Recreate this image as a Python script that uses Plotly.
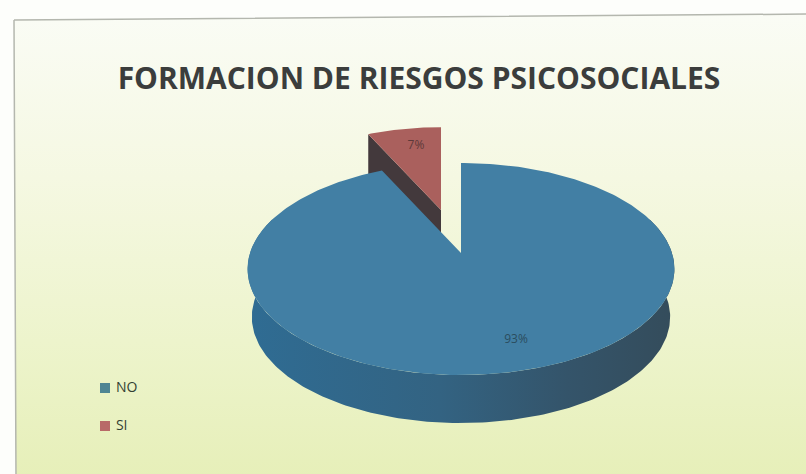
import math
import plotly.graph_objects as go

# Survey result
categories = ["NO", "SI"]
values = [93, 7]
title_text = "FORMACION DE RIESGOS PSICOSOCIALES"

# Drawing canvas uses screen-like units so the tilted pie can be laid out directly
W, H = 806, 474
TOP_COLORS = {"NO": "#427fa4", "SI": "#aa605d"}
TILT = 0.151      # foreshortening of the far side of the disc
RX, RY = 211, 103.6
DEPTH = 48


def rim(theta_deg, ax, ay, scale=1.0, shift=0.0, xscale=1.0):
    """Project a point of the tilted disc rim, clockwise from twelve o'clock."""
    t = math.radians(theta_deg)
    u, v = math.sin(t), math.cos(t)
    d = 1 + TILT * v
    return (ax + RX * scale * xscale * u / d, ay - RY * scale * v / d + shift)


def arc(start, end, ax, ay, **kw):
    n = max(2, int(abs(end - start)) + 1)
    pts = [rim(start + (end - start) * i / (n - 1), ax, ay, **kw) for i in range(n)]
    return [p[0] for p in pts], [p[1] for p in pts]


def poly(xs, ys, **kw):
    return go.Scatter(x=xs, y=ys, mode="lines", fill="toself", hoverinfo="skip",
                      showlegend=False, **kw)


sweep_no = values[0] / sum(values) * 360
sweep_si = values[1] / sum(values) * 360
AX_NO, AY_NO = 461, 253
AX_SI, AY_SI = 441, 210
SCALE_SI = 0.92

fig = go.Figure()

# Chart area with soft vertical gradient and a thin grey frame (open towards the page edges)
fig.add_trace(poly(
    [14, 812, 812, 16, 14], [20, 14, 482, 482, 20],
    line=dict(color="#b4b7ae", width=1.5),
    fillgradient=dict(type="vertical",
                      colorscale=[[0, "#e6efb8"], [0.3, "#edf4cc"], [0.65, "#f5f8e2"], [1, "#fafcf5"]]),
))

# Exploded SI slice: inner wall, then top face
lx, ly = rim(-sweep_si, AX_SI, AY_SI, scale=SCALE_SI)
wall = DEPTH * SCALE_SI
fig.add_trace(poly([lx, AX_SI, AX_SI, lx, lx], [ly, AY_SI, AY_SI + wall, ly + wall, ly],
                   line=dict(width=0), fillcolor="#43393c"))
ax_si, ay_si = arc(-sweep_si, 0, AX_SI, AY_SI, scale=SCALE_SI)
fig.add_trace(poly([AX_SI] + ax_si + [AX_SI], [AY_SI] + ay_si + [AY_SI],
                   line=dict(width=0), fillcolor=TOP_COLORS["SI"]))

# NO slice: outer wall, then top face
tx, ty = arc(70, 290, AX_NO, AY_NO)
bx, by = arc(290, 70, AX_NO, AY_NO, shift=DEPTH, xscale=0.98)
fig.add_trace(poly(tx + bx + tx[:1], ty + by + ty[:1], line=dict(width=0),
                   fillgradient=dict(type="horizontal",
                                     colorscale=[[0, "#2f6c93"], [0.45, "#336382"],
                                                 [0.75, "#34546a"], [1, "#344c5b"]])))
ax_no, ay_no = arc(0, sweep_no, AX_NO, AY_NO)
fig.add_trace(poly([AX_NO] + ax_no + [AX_NO], [AY_NO] + ay_no + [AY_NO],
                   line=dict(width=0), fillcolor=TOP_COLORS["NO"]))

# Percentage labels on the slices
fig.add_trace(go.Scatter(
    x=[516, 416], y=[340, 146], mode="text", hoverinfo="skip", showlegend=False,
    text=[f"{v}%" for v in values],
    textfont=dict(family="Open Sans", size=12, color=["#2b4d5e", "#5e3a3a"]),
))

# Legend keys and names
fig.add_trace(go.Scatter(
    x=[105, 105], y=[388, 426], mode="markers+text", hoverinfo="skip", showlegend=False,
    marker=dict(symbol="square", size=10, color=["#4f8593", "#b86a68"]),
    text=[" " + c for c in categories], textposition="middle right",
    textfont=dict(family="Open Sans", size=14, color="#333f33"),
))

fig.update_layout(
    width=W, height=H, margin=dict(l=0, r=0, t=0, b=0),
    paper_bgcolor="#fdfefb", plot_bgcolor="rgba(0,0,0,0)", showlegend=False,
    title=dict(text=f"<b>{title_text}</b>", x=419 / W, y=1 - 78 / H, xanchor="center", yanchor="middle",
               font=dict(family="Open Sans", size=30, color="#3b3d3c")),
    xaxis=dict(range=[0, W], visible=False, fixedrange=True),
    yaxis=dict(range=[H, 0], visible=False, fixedrange=True),
)

fig.write_html("out.html", config={"displayModeBar": False})
